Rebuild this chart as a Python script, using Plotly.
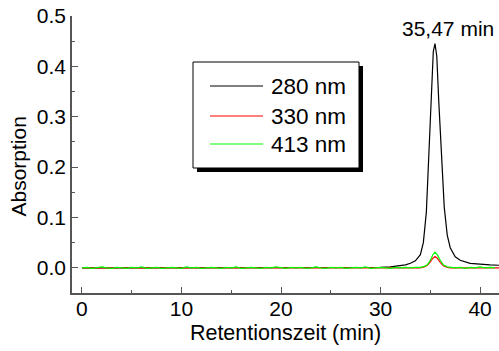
import plotly.graph_objects as go

# ---- data ----
x_280 = [0, 5, 10, 15, 20, 25, 30, 31, 32, 32.5, 33, 33.5, 34, 34.3, 34.6, 34.9, 35.1, 35.3,
         35.47, 35.65, 35.85, 36.1, 36.4, 36.7, 37, 37.5, 38, 39, 40, 41, 42]
y_280 = [0, 0, 0, 0, 0, 0, 0.001, 0.002, 0.004, 0.006, 0.009, 0.014, 0.026, 0.05, 0.11, 0.25,
         0.36, 0.43, 0.445, 0.42, 0.33, 0.22, 0.12, 0.065, 0.04, 0.022, 0.015, 0.009, 0.007,
         0.006, 0.005]

x_330 = [0, 5, 10, 15, 20, 25, 30, 33, 34, 34.4, 34.7, 35.0, 35.25, 35.47, 35.7, 36.0, 36.3,
         36.7, 37, 38, 40, 42]
y_330 = [0, 0, 0, 0, 0, 0, 0, 0, 0, 0.002, 0.005, 0.012, 0.019, 0.0225, 0.019, 0.011, 0.004,
         0.001, 0, 0, 0, 0]

x_413 = [0.0, 0.5, 1.0, 1.5, 2.0, 2.5, 3.0, 3.5, 4.0, 4.5, 5.0, 5.5, 6.0, 6.5, 7.0, 7.5, 8.0,
         8.5, 9.0, 9.5, 10.0, 10.5, 11.0, 11.5, 12.0, 12.5, 13.0, 13.5, 14.0, 14.5, 15.0, 15.5,
         16.0, 16.5, 17.0, 17.5, 18.0, 18.5, 19.0, 19.5, 20.0, 20.5, 21.0, 21.5, 22.0, 22.5,
         23.0, 23.5, 24.0, 24.5, 25.0, 25.5, 26.0, 26.5, 27.0, 27.5, 28.0, 28.5, 29.0, 29.5,
         30.0, 30.5, 31.0, 31.5, 32.0, 32.5, 33.0, 33.5, 34.0, 34.4, 34.7, 35.0, 35.25, 35.47,
         35.7, 36.0, 36.3, 36.7, 37.0, 37.5, 38.0, 38.5, 39.0, 39.5, 40.0, 40.5, 41.0, 41.5, 42.0]
y_413 = [0.000, 0.001, -0.001, 0.000, 0.002, 0.000, -0.001, 0.001, 0.000, -0.001,
         0.001, 0.000, 0.002, -0.001, 0.000, 0.001, -0.001, 0.000, 0.001, 0.000,
         -0.001, 0.002, 0.000, 0.001, -0.001, 0.000, 0.001, 0.000, -0.001, 0.001,
         0.000, 0.002, -0.001, 0.000, 0.001, 0.000, -0.001, 0.001, 0.000, 0.002,
         0.000, -0.001, 0.001, 0.000, 0.001, -0.001, 0.000, 0.002, 0.000, -0.001,
         0.001, 0.000, 0.001, -0.001, 0.000, 0.001, 0.000, 0.002, -0.001, 0.000,
         0.001, 0.000, -0.001, 0.001, 0.000, 0.001, 0.000,
         0.001, 0.001, 0.003, 0.006, 0.015, 0.026, 0.031, 0.026, 0.015, 0.006, 0.002, 0.001,
         0.000, 0.001, -0.001, 0.001, 0.000, 0.002, 0.000, 0.001, 0.000]

series_names = ["280 nm", "330 nm", "413 nm"]
series_colors = ["#000000", "#ff0000", "#00ff00"]
peak_label = "35,47 min"

FONT = "Liberation Sans, Arial, sans-serif"
AXC = "#555555"

fig = go.Figure()
for xs, ys, name, col in zip([x_280, x_330, x_413], [y_280, y_330, y_413],
                             series_names, series_colors):
    fig.add_trace(go.Scatter(x=xs, y=ys, mode="lines", name=name,
                             line=dict(color=col, width=1.2), showlegend=False))

fig.update_layout(
    width=499, height=351,
    margin=dict(l=72, r=0, t=16, b=58),
    paper_bgcolor="white", plot_bgcolor="white",
    font=dict(family=FONT, size=21, color="black"),
    xaxis=dict(range=[-1.0, 41.9], dtick=10, tick0=0, showgrid=False, zeroline=False,
               showline=True, linecolor=AXC, linewidth=1.5, ticks="inside", ticklen=6,
               tickcolor=AXC, tickwidth=1.2, ticklabelstandoff=-4,
               minor=dict(dtick=5, tick0=0, ticks="inside", ticklen=3, tickcolor=AXC),
               title=dict(text="Retentionszeit (min)", standoff=6,
                          font=dict(size=21.5, color="black")),
               tickfont=dict(size=21)),
    yaxis=dict(range=[-0.05, 0.5], dtick=0.1, tick0=0, tickformat=".1f", showgrid=False,
               zeroline=False, showline=True, linecolor=AXC, linewidth=1.5, ticks="inside",
               ticklen=6, tickcolor=AXC, tickwidth=1.2,
               minor=dict(dtick=0.05, tick0=0, ticks="inside", ticklen=3, tickcolor=AXC),
               tickfont=dict(size=21)),
)

# y-axis title (placed as in the reference, slightly below plot centre)
fig.add_annotation(x=(17.5 - 72) / 427, y=(293 - 167) / 277, xref="paper", yref="paper",
                   text="Absorption", textangle=-90, showarrow=False, xanchor="center",
                   yanchor="middle", font=dict(size=21, color="black"))

# peak label
fig.add_annotation(x=36.8, y=0.475, xref="x", yref="y", text=peak_label, showarrow=False,
                   font=dict(size=21, color="black"), xanchor="center", yanchor="middle")

# legend box with drop shadow (paper coords of the plot area)
fig.add_shape(type="rect", xref="paper", yref="paper", x0=0.2927, x1=0.6815, y0=0.4368,
              y1=0.8195, fillcolor="black", line=dict(width=0), layer="above")
fig.add_shape(type="rect", xref="paper", yref="paper", x0=0.2834, x1=0.6721, y0=0.4513,
              y1=0.8339, fillcolor="white", line=dict(color="black", width=1), layer="above")
row_py = [86, 116, 144]
for name, col, py in zip(series_names, series_colors, row_py):
    yp = (293 - py) / 277
    fig.add_shape(type="line", xref="paper", yref="paper", x0=(210 - 72) / 427,
                  x1=(263 - 72) / 427, y0=yp, y1=yp, line=dict(color=col, width=1.2),
                  layer="above")
    fig.add_annotation(x=(269 - 72) / 427, y=yp, xref="paper", yref="paper", text=name,
                       showarrow=False, xanchor="left", yanchor="middle",
                       font=dict(size=22.5, color="black"))

fig.write_html("out.html")
